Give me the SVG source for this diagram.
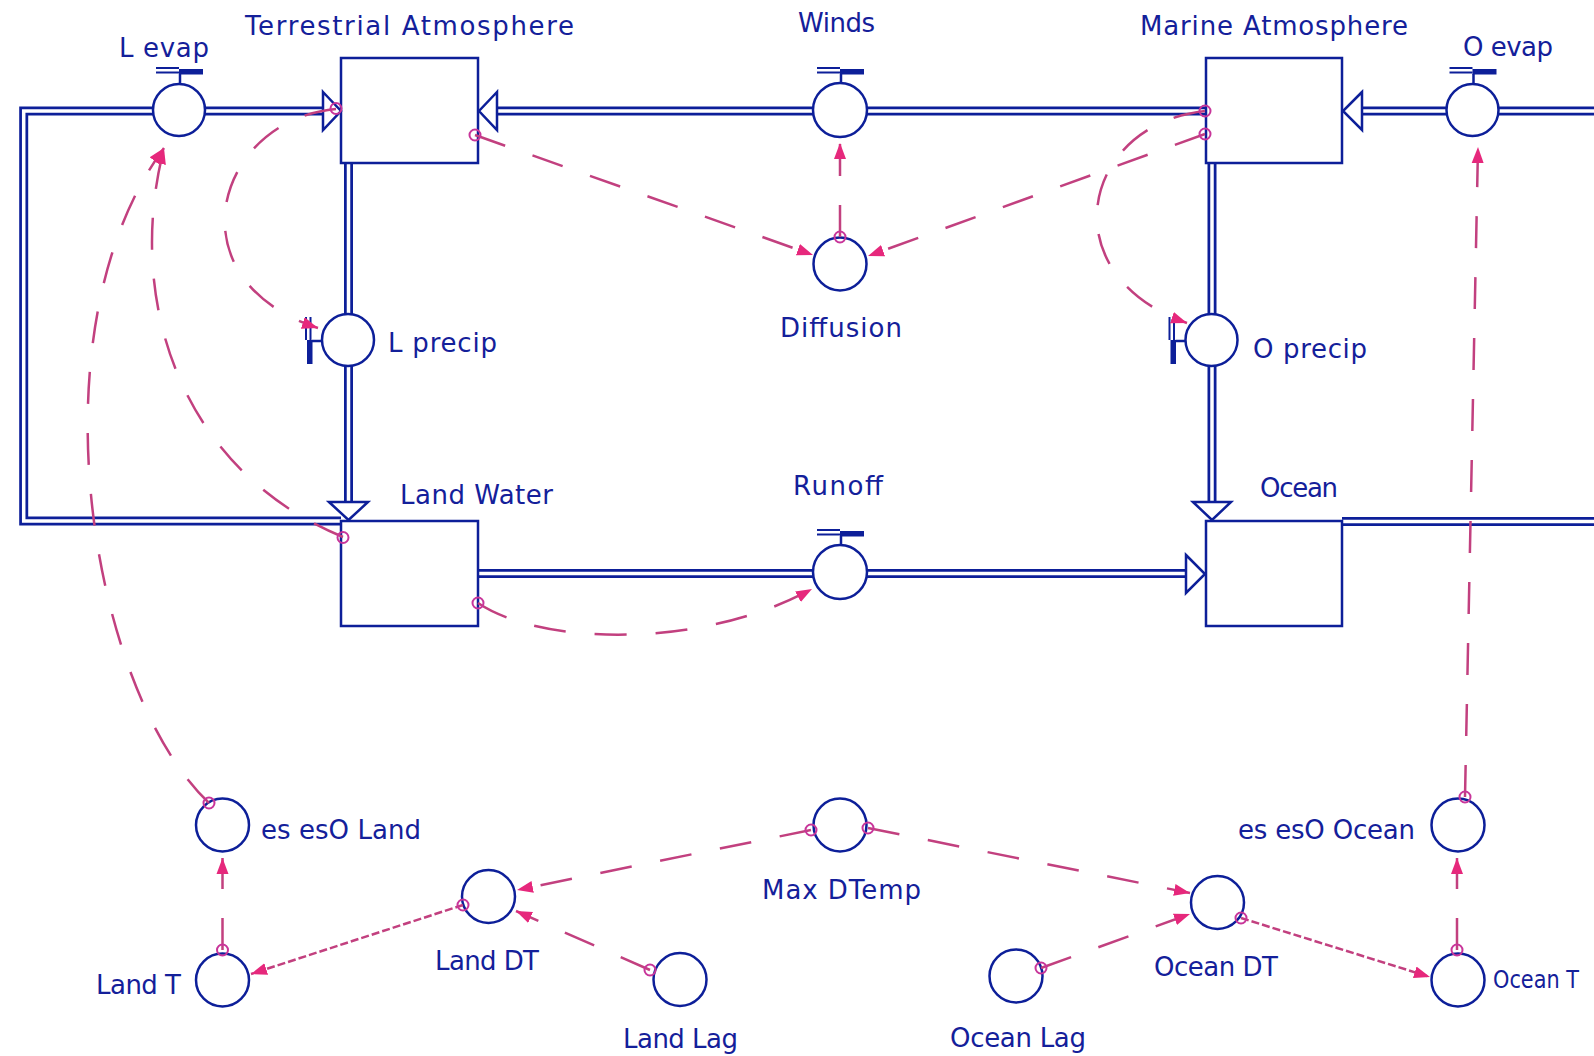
<svg xmlns="http://www.w3.org/2000/svg" xmlns:xlink="http://www.w3.org/1999/xlink" width="1594" height="1056" viewBox="0 0 1594 1056">
<style>
.po{fill:none;stroke:#0d1f99;stroke-width:9;stroke-linejoin:miter}
.pi{fill:none;stroke:#ffffff;stroke-width:3.5;stroke-linejoin:miter}
.box{fill:#ffffff;stroke:#0d1f99;stroke-width:2.5}
.fa{fill:#ffffff;stroke:#0d1f99;stroke-width:2.5;stroke-linejoin:miter}
.nc{fill:#ffffff;stroke:#0d1f99;stroke-width:2.5}
.cn{fill:none;stroke:#c2407f;stroke-width:2.5;stroke-dasharray:32 29;marker-end:url(#ah)}
.cs{fill:none;stroke:#c2407f;stroke-width:2.5;stroke-dasharray:8 3;marker-end:url(#ah)}
.sm{fill:none;stroke:#c8359a;stroke-width:2}
.lb{font-family:"DejaVu Sans","Liberation Sans",sans-serif;font-size:26px;fill:#14209a}
</style>
<defs>
<marker id="ah" markerUnits="userSpaceOnUse" markerWidth="18" markerHeight="14" refX="16" refY="7" orient="auto">
<path d="M0,1 L16,7 L0,13 z" fill="#e6287c"/>
</marker>
<g id="valve">
<line x1="-23" y1="-42" x2="0" y2="-42" stroke="#0d1f99" stroke-width="2"/>
<line x1="-23" y1="-37.5" x2="0" y2="-37.5" stroke="#0d1f99" stroke-width="2"/>
<rect x="0" y="-41" width="24" height="5.5" fill="#0d1f99"/>
<line x1="1" y1="-36" x2="1" y2="-26" stroke="#0d1f99" stroke-width="2.5"/>
</g>
</defs>
<rect width="1594" height="1056" fill="#ffffff"/>

<g id="flows">
<path class="po" d="M341 521 H23.7 V111 H323"/>
<path class="pi" d="M341 521 H23.7 V111 H323"/>
<path class="po" d="M1206 111 H497"/>
<path class="pi" d="M1206 111 H497"/>
<path class="po" d="M1600 111 H1362"/>
<path class="pi" d="M1600 111 H1362"/>
<path class="po" d="M348.5 163 V502"/>
<path class="pi" d="M348.5 163 V502"/>
<path class="po" d="M1212 163 V502"/>
<path class="pi" d="M1212 163 V502"/>
<path class="po" d="M478 573.5 H1186"/>
<path class="pi" d="M478 573.5 H1186"/>
<path class="po" d="M1342 521.5 H1600"/>
<path class="pi" d="M1342 521.5 H1600"/>
</g>

<g id="terrestrial-atmosphere">
<rect class="box" x="341" y="58" width="137" height="105"/>
<text class="lb" x="245" y="35" textLength="329" lengthAdjust="spacing">Terrestrial Atmosphere</text>
</g>
<g id="marine-atmosphere">
<rect class="box" x="1206" y="58" width="136" height="105"/>
<text class="lb" x="1140" y="35" textLength="268" lengthAdjust="spacing">Marine Atmosphere</text>
</g>
<g id="land-water">
<rect class="box" x="341" y="521" width="137" height="105"/>
<text class="lb" x="400" y="504" textLength="153" lengthAdjust="spacing">Land Water</text>
</g>
<g id="ocean">
<rect class="box" x="1206" y="521" width="136" height="105"/>
<text class="lb" x="1260" y="497" textLength="78" lengthAdjust="spacing">Ocean</text>
</g>

<g id="flow-arrowheads">
<polygon class="fa" points="323,92 341,111 323,130"/>
<polygon class="fa" points="497,92 479,111 497,130"/>
<polygon class="fa" points="1362,92 1343,111 1362,130"/>
<polygon class="fa" points="329,502 348.5,520 368,502"/>
<polygon class="fa" points="1193,502 1212,520 1231,502"/>
<polygon class="fa" points="1186,555 1205,574 1186,593"/>
</g>

<g id="l-evap">
<circle class="nc" cx="179" cy="110" r="26"/>
<use xlink:href="#valve" href="#valve" transform="translate(179,110)"/>
<text class="lb" x="119" y="57" textLength="90" lengthAdjust="spacing">L evap</text>
</g>
<g id="winds">
<circle class="nc" cx="840" cy="110" r="27"/>
<use xlink:href="#valve" href="#valve" transform="translate(840,110)"/>
<text class="lb" x="798" y="32" textLength="77" lengthAdjust="spacing">Winds</text>
</g>
<g id="o-evap">
<circle class="nc" cx="1472.5" cy="110" r="26"/>
<use xlink:href="#valve" href="#valve" transform="translate(1472.5,110)"/>
<text class="lb" x="1463" y="56" textLength="90" lengthAdjust="spacing">O evap</text>
</g>
<g id="l-precip">
<circle class="nc" cx="348" cy="340" r="26"/>
<use xlink:href="#valve" href="#valve" transform="matrix(0,1,1,0,348,340)"/>
<text class="lb" x="388" y="352" textLength="109" lengthAdjust="spacing">L precip</text>
</g>
<g id="o-precip">
<circle class="nc" cx="1211.5" cy="340" r="26"/>
<use xlink:href="#valve" href="#valve" transform="matrix(0,1,1,0,1211.5,340)"/>
<text class="lb" x="1253" y="358" textLength="114" lengthAdjust="spacing">O precip</text>
</g>
<g id="runoff">
<circle class="nc" cx="840" cy="572" r="27"/>
<use xlink:href="#valve" href="#valve" transform="translate(840,572)"/>
<text class="lb" x="793" y="495" textLength="90" lengthAdjust="spacing">Runoff</text>
</g>

<g id="diffusion">
<circle class="nc" cx="840" cy="264" r="26.5"/>
<text class="lb" x="780" y="337" textLength="122" lengthAdjust="spacing">Diffusion</text>
</g>
<g id="es-eso-land">
<circle class="nc" cx="222.5" cy="825" r="26.5"/>
<text class="lb" x="261" y="839" textLength="160" lengthAdjust="spacing">es esO Land</text>
</g>
<g id="land-t">
<circle class="nc" cx="222.5" cy="980" r="26.5"/>
<text class="lb" x="96" y="994" textLength="85" lengthAdjust="spacing">Land T</text>
</g>
<g id="land-dt">
<circle class="nc" cx="488.5" cy="896.5" r="26.5"/>
<text class="lb" x="435" y="970" textLength="104" lengthAdjust="spacing">Land DT</text>
</g>
<g id="land-lag">
<circle class="nc" cx="680" cy="979.5" r="26.5"/>
<text class="lb" x="623" y="1048" textLength="115" lengthAdjust="spacing">Land Lag</text>
</g>
<g id="max-dtemp">
<circle class="nc" cx="840" cy="825" r="26.5"/>
<text class="lb" x="762" y="899" textLength="159" lengthAdjust="spacing">Max DTemp</text>
</g>
<g id="ocean-dt">
<circle class="nc" cx="1217.5" cy="902.5" r="26.5"/>
<text class="lb" x="1154" y="976" textLength="124" lengthAdjust="spacing">Ocean DT</text>
</g>
<g id="ocean-lag">
<circle class="nc" cx="1016" cy="976" r="26.5"/>
<text class="lb" x="950" y="1047" textLength="136" lengthAdjust="spacing">Ocean Lag</text>
</g>
<g id="es-eso-ocean">
<circle class="nc" cx="1458" cy="825" r="26.5"/>
<text class="lb" x="1238" y="839" textLength="177" lengthAdjust="spacing">es esO Ocean</text>
</g>
<g id="ocean-t">
<circle class="nc" cx="1458" cy="980" r="26.5"/>
<text class="lb" x="1493" y="988" style="font-size:24px" textLength="86" lengthAdjust="spacingAndGlyphs">Ocean T</text>
</g>

<g id="connectors">
<path class="cn" d="M336 109 C215 120 170 280 318 328"/>
<path class="cn" d="M343 537 C180 470 125 300 164 148"/>
<path class="cn" d="M209 803 C90 690 30 330 164 148"/>
<path class="cn" d="M475 135 L813 255"/>
<path class="cn" d="M1205 134 L868 256"/>
<path class="cn" d="M840 237 L840 143"/>
<path class="cn" d="M1205 111 C1080 125 1050 275 1187 323"/>
<path class="cn" d="M478 603 C540 645 700 650 812 589"/>
<path class="cn" d="M1465 797 L1478 147"/>
<path class="cn" d="M222.5 950 L222.5 858"/>
<path class="cs" d="M463 905 L251 974"/>
<path class="cn" d="M811 830 L517 890"/>
<path class="cn" d="M650 970 L516 911"/>
<path class="cn" d="M868 828 L1190 893"/>
<path class="cn" d="M1041 968 L1190 914"/>
<path class="cs" d="M1241 918 L1430 977"/>
<path class="cn" d="M1457 950 L1457 858"/>
<g id="source-marks">
<circle class="sm" cx="336" cy="108.5" r="5.5"/>
<circle class="sm" cx="475" cy="135" r="5.5"/>
<circle class="sm" cx="1205" cy="111" r="5.5"/>
<circle class="sm" cx="1205" cy="134" r="5.5"/>
<circle class="sm" cx="343" cy="537.5" r="5.5"/>
<circle class="sm" cx="478" cy="603" r="5.5"/>
<circle class="sm" cx="840" cy="237" r="5.5"/>
<circle class="sm" cx="209" cy="803" r="5.5"/>
<circle class="sm" cx="1465" cy="797" r="5.5"/>
<circle class="sm" cx="222.5" cy="950" r="5.5"/>
<circle class="sm" cx="463" cy="905" r="5.5"/>
<circle class="sm" cx="811" cy="830" r="5.5"/>
<circle class="sm" cx="868" cy="828" r="5.5"/>
<circle class="sm" cx="650" cy="970" r="5.5"/>
<circle class="sm" cx="1041" cy="968" r="5.5"/>
<circle class="sm" cx="1241" cy="918" r="5.5"/>
<circle class="sm" cx="1457" cy="950" r="5.5"/>
</g>
</g>
</svg>
